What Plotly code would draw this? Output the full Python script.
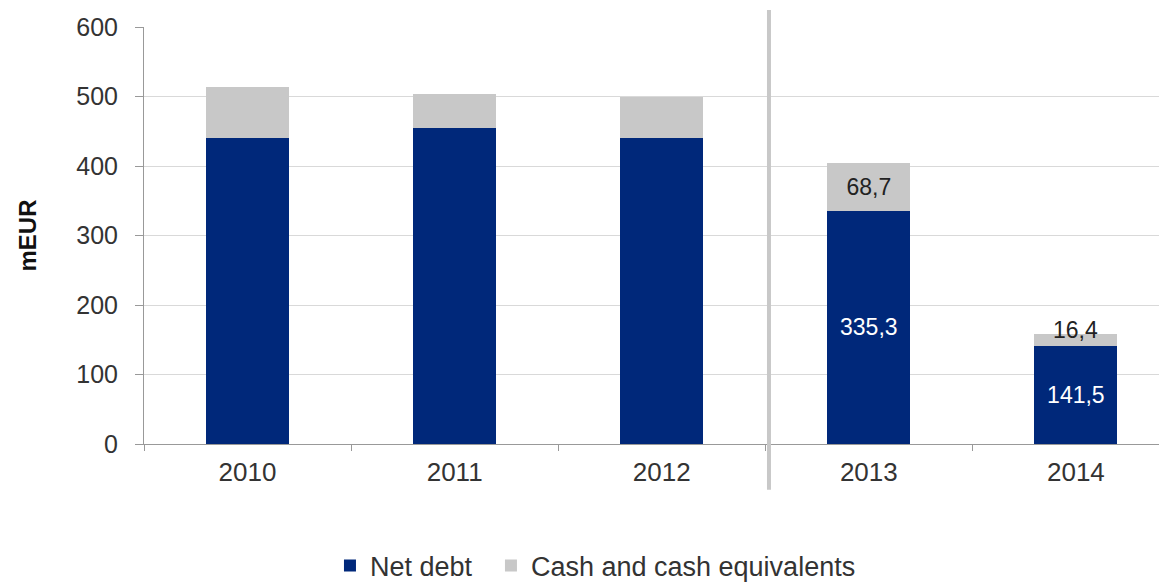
import plotly.graph_objects as go

years = ["2010", "2011", "2012", "2013", "2014"]
net_debt = [440, 455, 440, 335.3, 141.5]
cash = [74, 49, 60, 68.7, 16.4]
net_debt_labels = ["", "", "", "335,3", "141,5"]
cash_labels = ["", "", "", "68,7", "16,4"]
cash_label_on_top = [False, False, False, False, True]
y_ticks = [0, 100, 200, 300, 400, 500, 600]

NAVY = "#00287A"
GREY = "#C8C8C8"
FONT = "Liberation Sans, Arial, sans-serif"
TXT = "#333333"

inside_cash_text = [t if not top else "" for t, top in zip(cash_labels, cash_label_on_top)]

fig = go.Figure()
fig.add_trace(go.Bar(
    x=years, y=net_debt, name="Net debt", marker_color=NAVY, marker_line_width=0,
    width=0.4, text=net_debt_labels, textposition="inside", insidetextanchor="middle",
    textfont=dict(color="white", size=23, family=FONT), constraintext="none",
    hoverinfo="skip", legend="legend", showlegend=True))
fig.add_trace(go.Bar(
    x=years, y=cash, name="Cash and cash equivalents", marker_color=GREY, marker_line_width=0,
    width=0.4, text=inside_cash_text, textposition="inside", insidetextanchor="middle",
    textfont=dict(color="#222222", size=23, family=FONT),
    constraintext="none", hoverinfo="skip", legend="legend2", showlegend=True))

# labels of thin segments sit on the top edge of the stack
for i, (nd, c, lab, top) in enumerate(zip(net_debt, cash, cash_labels, cash_label_on_top)):
    if top and lab:
        fig.add_annotation(x=i, y=nd + c, text=lab, showarrow=False, yanchor="middle",
                           yshift=4, font=dict(color="#222222", size=23, family=FONT))

# vertical separator between actual years and later years
fig.add_shape(type="line", xref="x", yref="paper", x0=2.518, x1=2.518, y0=-0.110, y1=1.041,
              line=dict(color="#C8C8C8", width=4), layer="above")

legend_common = dict(orientation="h", xref="container", yref="container",
                     xanchor="left", y=0.03125, yanchor="middle", visible=True,
                     font=dict(size=27, color=TXT), bgcolor="rgba(0,0,0,0)")

fig.update_layout(
    barmode="stack",
    showlegend=True,
    width=1159, height=576,
    margin=dict(l=136, r=0, t=19, b=140),
    plot_bgcolor="white", paper_bgcolor="white",
    font=dict(family=FONT, size=25, color=TXT),
    legend=dict(x=0.2778, **legend_common),
    legend2=dict(x=0.4167, **legend_common),
    xaxis=dict(range=[-0.5, 4.44], showline=True, linecolor="#999999", linewidth=1,
               ticks="outside", tickson="boundaries", ticklen=6, tickcolor="#999999",
               tickfont=dict(size=26, color=TXT), ticklabelstandoff=5,
               showgrid=False, fixedrange=True),
    yaxis=dict(range=[0, 600], tickvals=y_ticks, showline=True, linecolor="#999999", linewidth=1,
               ticks="outside", ticklen=8, tickcolor="#999999", ticklabelstandoff=12,
               gridcolor="#D9D9D9", gridwidth=1,
               tickfont=dict(size=25, color=TXT),
               title=dict(text="<b>mEUR</b>", font=dict(size=24, color="#111111"), standoff=32),
               zeroline=False),
)

fig.write_html("out.html")
